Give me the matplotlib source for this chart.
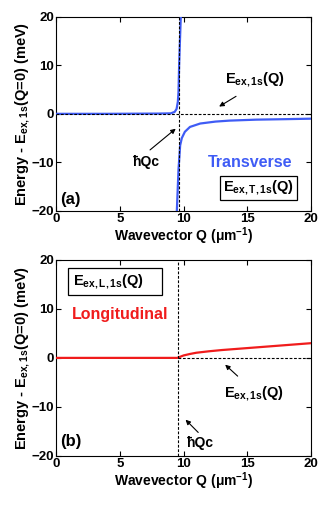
import matplotlib
matplotlib.use("Agg")
import matplotlib.pyplot as plt
from matplotlib.patches import Rectangle

plt.rcParams['font.family'] = ['Liberation Sans', 'DejaVu Sans']
plt.rcParams['font.weight'] = 'bold'
plt.rcParams['mathtext.fontset'] = 'custom'
plt.rcParams['mathtext.rm'] = 'Liberation Sans:bold'
plt.rcParams['mathtext.bf'] = 'Liberation Sans:bold'
plt.rcParams['mathtext.it'] = 'Liberation Sans:bold'
plt.rcParams['mathtext.default'] = 'bf'

# ---- data ----
q_c_a = 9.67
q_c_b = 9.55
q_t_lower = [0, 4, 8, 9.0, 9.3, 9.45, 9.55, 9.6, 9.65, 9.7, 9.78]
e_t_lower = [0, 0, 0.05, 0.1, 0.4, 1.0, 2.5, 4.5, 10, 14, 20]
q_t_upper = [9.47, 9.6, 9.73, 9.86, 10.1, 10.5, 11.3, 12.5, 13.6, 15.7, 18, 20]
e_t_upper = [-20, -11.5, -6.5, -5.0, -3.7, -2.7, -2.0, -1.6, -1.4, -1.2, -1.1, -1.0]
q_l = [0, 4, 8, 9.5, 9.8, 10, 10.5, 11, 12, 13, 14, 15, 16, 18, 20]
e_l = [0, 0, 0, 0, 0.3, 0.5, 0.8, 1.05, 1.35, 1.6, 1.8, 2.0, 2.2, 2.6, 3.0]
x_ticks = [0, 5, 10, 15, 20]
y_ticks = [-20, -10, 0, 10, 20]

blue = '#3f5cf5'
red = '#f01c1c'
fs_tick = 9.5
fs_lab = 10
fs_ann = 10.5

fig = plt.figure(figsize=(3.32, 5.07), dpi=100)
ax_a = fig.add_axes([0.169, 0.584, 0.768, 0.383])
ax_b = fig.add_axes([0.169, 0.1006, 0.768, 0.387])

ylabel = 'Energy - E$_{ex,1s}$(Q=0) (meV)'
xlabel = 'Wavevector Q (μm$^{-1}$)'

for ax in (ax_a, ax_b):
    ax.set_xlim(0, 20)
    ax.set_ylim(-20, 20)
    ax.set_xticks(x_ticks)
    ax.set_yticks(y_ticks)
    ax.tick_params(direction='in', top=True, right=True, length=3.5, width=0.8,
                   labelsize=fs_tick, pad=1.5)
    for lbl in ax.get_xticklabels() + ax.get_yticklabels():
        lbl.set_fontweight('bold')
    ax.set_xlabel(xlabel, fontsize=fs_lab, fontweight='bold', labelpad=0)
    ax.set_ylabel(ylabel, fontsize=10.5, fontweight='bold', labelpad=0)
    for s in ax.spines.values():
        s.set_linewidth(0.8)

dash = dict(color='black', lw=0.8, ls=(0, (2.5, 1.5)), zorder=4)
arrow = dict(arrowstyle='-|>', color='black', lw=0.8, mutation_scale=7)

# panel (a)
ax_a.plot(q_t_lower, e_t_lower, color=blue, lw=1.6, zorder=3)
ax_a.plot(q_t_upper, e_t_upper, color=blue, lw=1.6, zorder=3)
ax_a.plot([0, 20], [0, 0], **dash)
ax_a.plot([q_c_a, q_c_a], [-20, 20], **dash)
ax_a.annotate('', xy=(12.6, 1.2), xytext=(14.3, 3.9), arrowprops=arrow)
ax_a.text(15.6, 7.0, 'E$_{ex,1s}$(Q)', fontsize=fs_ann, ha='center', va='center')
ax_a.annotate('', xy=(9.55, -2.7), xytext=(7.2, -7.8), arrowprops=arrow)
ax_a.text(7.1, -10.0, 'ħQc', fontsize=fs_lab, ha='center', va='center')
ax_a.text(15.2, -10.1, 'Transverse', fontsize=11.5, color=blue, ha='center', va='center')
ax_a.text(15.9, -15.3, 'E$_{ex,T,1s}$(Q)', fontsize=fs_ann, ha='center', va='center',
          bbox=dict(boxstyle='square,pad=0.2', fc='white', ec='black', lw=0.9))
ax_a.text(0.3, -17.6, '(a)', fontsize=12, ha='left', va='center')

# panel (b)
ax_b.plot(q_l, e_l, color=red, lw=1.6, zorder=3)
ax_b.plot([q_c_b, 20], [0, 0], **dash)
ax_b.plot([q_c_b, q_c_b], [-20, 20], **dash)
ax_b.add_patch(Rectangle((0.95, 12.9), 7.35, 5.5, fc='white', ec='black', lw=0.9, zorder=5))
ax_b.text(1.3, 15.6, 'E$_{ex,L,1s}$(Q)', fontsize=fs_ann, ha='left', va='center', zorder=6)
ax_b.text(5.0, 8.8, 'Longitudinal', fontsize=11.5, color=red, ha='center', va='center')
ax_b.annotate('', xy=(13.1, -1.0), xytext=(14.4, -4.1), arrowprops=arrow)
ax_b.text(15.5, -7.3, 'E$_{ex,1s}$(Q)', fontsize=fs_ann, ha='center', va='center')
ax_b.annotate('', xy=(10.0, -12.2), xytext=(11.3, -15.6), arrowprops=arrow)
ax_b.text(11.3, -17.4, 'ħQc', fontsize=fs_lab, ha='center', va='center')
ax_b.text(0.3, -17.0, '(b)', fontsize=12, ha='left', va='center')

fig.savefig('out.png', dpi=100)
